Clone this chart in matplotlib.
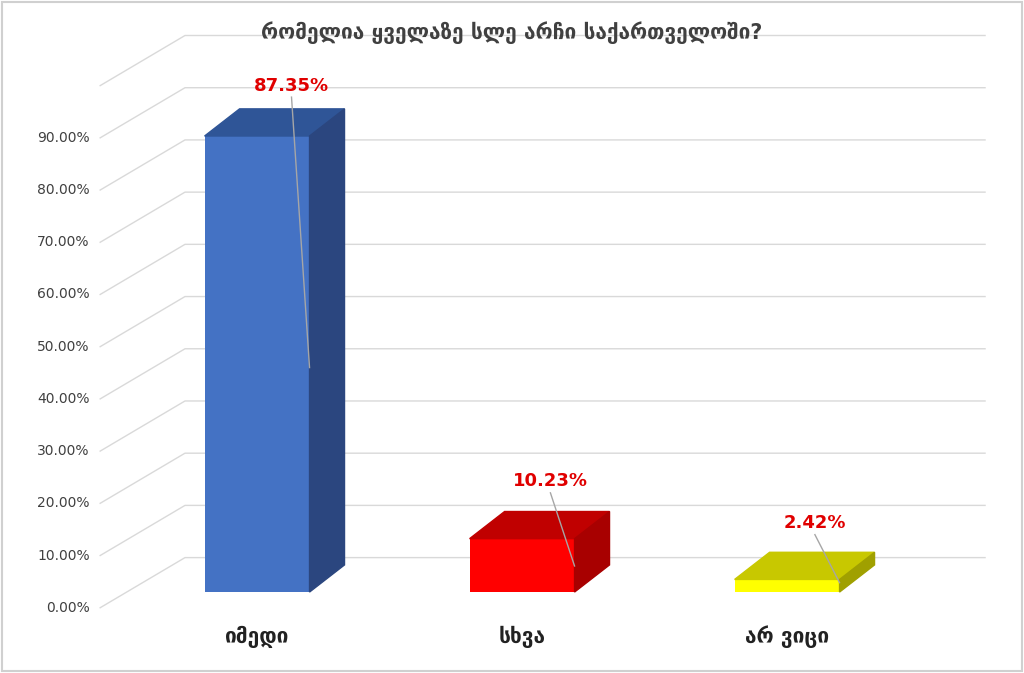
import matplotlib.pyplot as plt
from matplotlib.patches import Polygon

plt.rcParams['font.family'] = ['DejaVu Sans']

title = "რომელია ყველაზე სლე არჩი საქართველოში?"
categories = ["იმედი", "სხვა", "არ ვიცი"]
values = [87.35, 10.23, 2.42]
value_labels = ["87.35%", "10.23%", "2.42%"]
tick_values = [0, 10, 20, 30, 40, 50, 60, 70, 80, 90]
tick_labels = ["0.00%", "10.00%", "20.00%", "30.00%", "40.00%", "50.00%",
               "60.00%", "70.00%", "80.00%", "90.00%"]

front_colors = ["#4472C4", "#FF0000", "#FFFF00"]
top_colors = ["#2F5597", "#C00000", "#C8C800"]
side_colors = ["#2B467F", "#A80000", "#A0A000"]

fig = plt.figure(figsize=(10.24, 6.73), dpi=100)
ax = fig.add_axes([0, 0, 1, 1])
ax.set_xlim(-0.97, 2.894)
ax.set_ylim(-15.5, 113.4)
ax.axis('off')

bw = 0.396          # bar width
bdx, bdy = 0.132, 5.2   # bar depth
wdx, wdy = 0.32, 9.6    # wall depth
goff = -3.0             # gridline front offset
gx0, gx1 = -0.592, 2.747

for t in tick_values + [100]:
    y0 = t + goff
    ax.plot([gx0, gx0 + wdx, gx1], [y0, y0 + wdy, y0 + wdy], color="#D9D9D9", lw=1, zorder=1)
for t, lab in zip(tick_values, tick_labels):
    ax.text(gx0 - 0.04, t + goff, lab, ha='right', va='center', fontsize=10, color="#404040")

for i, v in enumerate(values):
    x0, x1 = i - bw / 2, i + bw / 2
    ax.bar(i, v, width=bw, color=front_colors[i], zorder=3)
    ax.add_patch(Polygon([(x0, v), (x1, v), (x1 + bdx, v + bdy), (x0 + bdx, v + bdy)],
                         closed=True, color=top_colors[i], zorder=3))
    ax.add_patch(Polygon([(x1, 0), (x1 + bdx, bdy), (x1 + bdx, v + bdy), (x1, v)],
                         closed=True, color=side_colors[i], zorder=3))
    ax.text(i, -8.5, categories[i], ha='center', va='center', fontsize=15,
            fontweight='bold', color="#222222")

# value labels with leader lines
label_pos = [(0.13, 97.0), (0.107, 21.2), (0.105, 13.2)]
line_end = [(bw / 2, 43.0), (bw / 2, 5.0), (bw / 2, 1.8)]
for i, lab in enumerate(value_labels):
    lx, ly = label_pos[i]
    ex, ey = line_end[i]
    ax.plot([i + lx, i + ex], [ly - 2.2, ey], color="#A6A6A6", lw=1, zorder=4)
    ax.text(i + lx, ly, lab, ha='center', va='center', fontsize=13,
            fontweight='bold', color="#E00000", zorder=5)

fig.text(0.5, 0.952, title, ha='center', va='center', fontsize=15,
         fontweight='bold', color="#404040")
fig.patches.append(plt.Rectangle((0.002, 0.003), 0.996, 0.994, transform=fig.transFigure,
                                 fill=False, edgecolor="#D0D0D0", lw=1.5))

fig.savefig("out.png", dpi=100)
